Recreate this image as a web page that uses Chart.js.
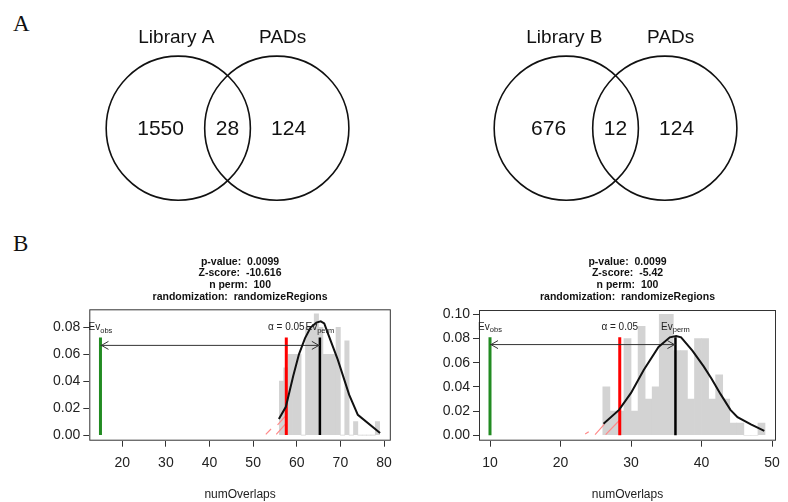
<!DOCTYPE html>
<html>
<head>
<meta charset="utf-8">
<script src="https://cdn.jsdelivr.net/npm/chart.js@4.4.1/dist/chart.umd.min.js"></script>
<style>
  body { margin: 0; width: 788px; height: 502px; background: #fff; position: relative; overflow: hidden; }
  canvas { position: absolute; }
  .panel { position: absolute; font-family: "Liberation Serif", "Times New Roman", serif; font-size: 23px; line-height: 23px; color: #111; }
</style>
</head>
<body>
<div class="panel" style="left:13px; top:12px;">A</div>
<div class="panel" style="left:13px; top:232px;">B</div>
<canvas id="vennA" width="394" height="240" style="left:0px; top:0px;"></canvas>
<canvas id="vennB" width="394" height="240" style="left:388px; top:0px;"></canvas>
<canvas id="histA" width="400" height="252" style="left:0px; top:250px;"></canvas>
<canvas id="histB" width="388" height="252" style="left:400px; top:250px;"></canvas>
<script>
// --- Venn counts (left only, overlap, right only)
const vennSetsA = ['Library A', 'PADs'];
const vennCountsA = [1550, 28, 124];
const vennSetsB = ['Library B', 'PADs'];
const vennCountsB = [676, 12, 124];

// --- permutation test A (Library A vs PADs), density per 1-wide bin (left edge)
const binsA = [56, 57, 58, 59, 60, 61, 62, 63, 64, 65, 66, 67, 68, 69, 70, 71, 72, 73, 74, 75, 76, 77, 78];
const densA = [0.04, 0.05, 0.06, 0.06, 0.06, 0, 0.08, 0.08, 0.09, 0.08, 0.06, 0.06, 0.06, 0.08, 0, 0.07, 0, 0.01, 0, 0, 0, 0, 0.01];
const curveXA = [55.9, 57.5, 59.2, 60.5, 61.9, 63.2, 64.5, 65.5, 66.3, 67.2, 69.4, 72, 74, 79.1];
const curveYA = [0.012, 0.021, 0.044, 0.06, 0.072, 0.08, 0.0835, 0.0845, 0.083, 0.075, 0.056, 0.03, 0.015, 0.0015];
const obsA = 15, alphaA = 57.6, permA = 65.3;
const statsA = ['p-value:  0.0099', 'Z-score:  -10.616', 'n perm:  100', 'randomization:  randomizeRegions'];

// --- permutation test B (Library B vs PADs)
const binsB = [26, 27, 28, 29, 30, 31, 32, 33, 34, 35, 36, 37, 38, 39, 40, 41, 42, 43, 44, 45, 46, 47, 48];
const densB = [0.04, 0.02, 0.02, 0.08, 0.02, 0.09, 0.03, 0.04, 0.10, 0.10, 0.07, 0.07, 0.03, 0.08, 0.08, 0.03, 0.05, 0.03, 0.01, 0.01, 0, 0, 0.01];
const curveXB = [26.1, 28.3, 30, 31.8, 33.9, 35.5, 36.4, 37.1, 38.7, 40.3, 41.4, 42.7, 44.1, 45.1, 47, 48.9];
const curveYB = [0.0095, 0.021, 0.035, 0.054, 0.073, 0.081, 0.082, 0.081, 0.07, 0.057, 0.047, 0.034, 0.021, 0.015, 0.009, 0.0036];
const obsB = 10, alphaB = 28.4, permB = 36.3;
const statsB = ['p-value:  0.0099', 'Z-score:  -5.42', 'n perm:  100', 'randomization:  randomizeRegions'];

// hatch marks of the alpha region (x1, y1, x2, y2)
const hatchA = [[52.9, 0.0005, 54.1, 0.0045], [55.3, 0.0005, 57.5, 0.0085], [55.6, 0.0075, 57.5, 0.0145]];
const hatchB = [[23.5, 0.001, 24.0, 0.003], [24.9, 0.0005, 26.2, 0.009], [26.4, 0.0005, 28.3, 0.012]];

Chart.defaults.font.family = "'Liberation Sans', Arial, sans-serif";
Chart.defaults.color = '#222';

// venn geometry in circle units
const vennGeo = { centers: [-0.5, 0.5], r: 0.732, setX: [-0.52, 0.56], setY: 0.915, countX: [-0.68, 0, 0.62], countY: -0.01 };

const vennText = {
  id: 'vennText',
  afterDatasetsDraw(chart, args, o) {
    const { ctx, scales: { x, y } } = chart;
    ctx.save();
    ctx.fillStyle = '#111';
    ctx.textAlign = 'center';
    ctx.textBaseline = 'middle';
    ctx.font = "19px 'Liberation Sans', Arial, sans-serif";
    o.sets.forEach((s, i) => ctx.fillText(s, x.getPixelForValue(vennGeo.setX[i]), y.getPixelForValue(vennGeo.setY)));
    ctx.font = "21px 'Liberation Sans', Arial, sans-serif";
    o.counts.forEach((c, i) => ctx.fillText(String(c), x.getPixelForValue(vennGeo.countX[i]), y.getPixelForValue(vennGeo.countY)));
    ctx.restore();
  }
};

function drawVenn(id, sets, counts) {
  new Chart(document.getElementById(id), {
    type: 'scatter',
    data: {
      datasets: [{
        data: vennGeo.centers.map(c => ({ x: c, y: 0 })),
        pointRadius: c => {
          const s = c.chart.scales.x;
          return s ? s.getPixelForValue(vennGeo.r) - s.getPixelForValue(0) : 72;
        },
        pointBackgroundColor: 'rgba(0,0,0,0)',
        pointBorderColor: '#111',
        pointBorderWidth: 1.6,
        clip: false
      }]
    },
    options: {
      responsive: false,
      animation: false,
      events: [],
      layout: { padding: 0 },
      plugins: { legend: { display: false }, tooltip: { enabled: false }, vennText: { sets, counts } },
      scales: {
        x: { display: false, min: -2.31, max: 1.69 },
        y: { display: false, min: -1.135, max: 1.3015 }
      }
    },
    plugins: [vennText]
  });
}

// box, arrow heads and line labels
function subLabel(ctx, main, sub, cx, cy) {
  ctx.font = "10px 'Liberation Sans', Arial, sans-serif";
  const w1 = ctx.measureText(main).width;
  ctx.font = "7.5px 'Liberation Sans', Arial, sans-serif";
  const w2 = sub ? ctx.measureText(sub).width : 0;
  const x0 = cx - (w1 + w2) / 2;
  ctx.textAlign = 'left';
  ctx.textBaseline = 'middle';
  ctx.font = "10px 'Liberation Sans', Arial, sans-serif";
  ctx.fillText(main, x0, cy);
  if (sub) {
    ctx.font = "7.5px 'Liberation Sans', Arial, sans-serif";
    ctx.fillText(sub, x0 + w1, cy + 3);
  }
}

const permAnnot = {
  id: 'permAnnot',
  afterDatasetsDraw(chart, args, o) {
    const { ctx, chartArea: a, scales: { x, y } } = chart;
    ctx.save();
    ctx.strokeStyle = '#333';
    ctx.lineWidth = 1;
    ctx.strokeRect(a.left + 0.5, a.top + 0.5, a.right - a.left - 1, a.bottom - a.top - 1);
    const ay = y.getPixelForValue(o.arrowY);
    const x1 = x.getPixelForValue(o.obs), x2 = x.getPixelForValue(o.perm);
    ctx.beginPath();
    ctx.moveTo(x1 + 8, ay - 4); ctx.lineTo(x1 + 1, ay); ctx.lineTo(x1 + 8, ay + 4);
    ctx.moveTo(x2 - 8, ay - 4); ctx.lineTo(x2 - 1, ay); ctx.lineTo(x2 - 8, ay + 4);
    ctx.stroke();
    const ly = y.getPixelForValue(o.top) - 10;
    ctx.fillStyle = '#222';
    subLabel(ctx, 'Ev', 'obs', x1, ly);
    subLabel(ctx, 'α = 0.05', '', x.getPixelForValue(o.alpha), ly);
    subLabel(ctx, 'Ev', 'perm', x2, ly);
    ctx.restore();
  }
};

const layoutA = { pad: { left: 0, right: 1.7, top: 0, bottom: 0 }, yWidth: 89.3, xHeight: 61.3, titlePad: { top: 5.8, bottom: 6.3 },
  xMin: 12.44, xMax: 81.56, yMin: -0.0042, yMax: 0.0934, lineTop: 0.0725, arrowY: 0.0666 };
const layoutB = { pad: { left: 0, right: 4.7, top: 0, bottom: 0 }, yWidth: 79, xHeight: 61.3, titlePad: { top: 5.8, bottom: 7.0 },
  xMin: 8.44, xMax: 50.56, yMin: -0.0045, yMax: 0.1036, lineTop: 0.081, arrowY: 0.075 };

function drawHist(id, L, bins, dens, cx, cy, obs, alpha, perm, stats, hatch) {
  const hatchData = [];
  hatch.forEach(h => hatchData.push({ x: h[0], y: h[1] }, { x: h[2], y: h[3] }, { x: h[2], y: null }));
  const vline = (v, col, w) => ({
    type: 'line', data: [{ x: v, y: 0 }, { x: v, y: L.lineTop }], borderColor: col, borderWidth: w, pointRadius: 0, order: 2
  });
  new Chart(document.getElementById(id), {
    type: 'bar',
    data: {
      datasets: [
        { type: 'line', data: [{ x: obs, y: L.arrowY }, { x: perm, y: L.arrowY }], borderColor: '#333', borderWidth: 1, pointRadius: 0, order: 1 },
        { type: 'line', data: cx.map((v, i) => ({ x: v, y: cy[i] })), borderColor: '#111', borderWidth: 2, pointRadius: 0, tension: 0, order: 0 },
        vline(perm, '#000000', 2.5),
        vline(alpha, '#ff0000', 3),
        vline(obs, '#228B22', 3),
        { type: 'line', data: hatchData, borderColor: '#ff8a8a', borderWidth: 1.2, pointRadius: 0, spanGaps: false, order: 3 },
        { type: 'bar', data: bins.map((b, i) => ({ x: b + 0.5, y: dens[i] })), backgroundColor: '#d3d3d3', borderWidth: 0,
          barPercentage: 1, categoryPercentage: 1, order: 4 }
      ]
    },
    options: {
      responsive: false,
      animation: false,
      events: [],
      layout: { padding: L.pad },
      plugins: {
        legend: { display: false },
        tooltip: { enabled: false },
        title: { display: true, text: stats, fullSize: false, color: '#111',
          font: { size: 10.5, weight: 'bold', lineHeight: 1.124 }, padding: L.titlePad },
        permAnnot: { obs, alpha, perm, top: L.lineTop, arrowY: L.arrowY }
      },
      scales: {
        x: {
          type: 'linear', min: L.xMin, max: L.xMax, offset: false,
          grid: { offset: false, drawOnChartArea: false, drawTicks: true, tickLength: 6, color: '#333' },
          border: { display: false },
          ticks: { stepSize: 10, includeBounds: false, padding: 8, font: { size: 14 }, color: '#222', maxRotation: 0, autoSkip: false },
          title: { display: true, text: 'numOverlaps', font: { size: 12 }, color: '#222', padding: { top: 0, bottom: 0.5 } },
          afterFit: s => { s.height = L.xHeight; }
        },
        y: {
          min: L.yMin, max: L.yMax,
          grid: { drawOnChartArea: false, drawTicks: true, tickLength: 6, color: '#333' },
          border: { display: false },
          ticks: { stepSize: 0.02, includeBounds: false, padding: 3, font: { size: 14 }, color: '#222',
            callback: v => v.toFixed(2) },
          afterFit: s => { s.width = L.yWidth; }
        }
      }
    },
    plugins: [permAnnot]
  });
}

drawVenn('vennA', vennSetsA, vennCountsA);
drawVenn('vennB', vennSetsB, vennCountsB);
drawHist('histA', layoutA, binsA, densA, curveXA, curveYA, obsA, alphaA, permA, statsA, hatchA);
drawHist('histB', layoutB, binsB, densB, curveXB, curveYB, obsB, alphaB, permB, statsB, hatchB);
</script>
</body>
</html>
